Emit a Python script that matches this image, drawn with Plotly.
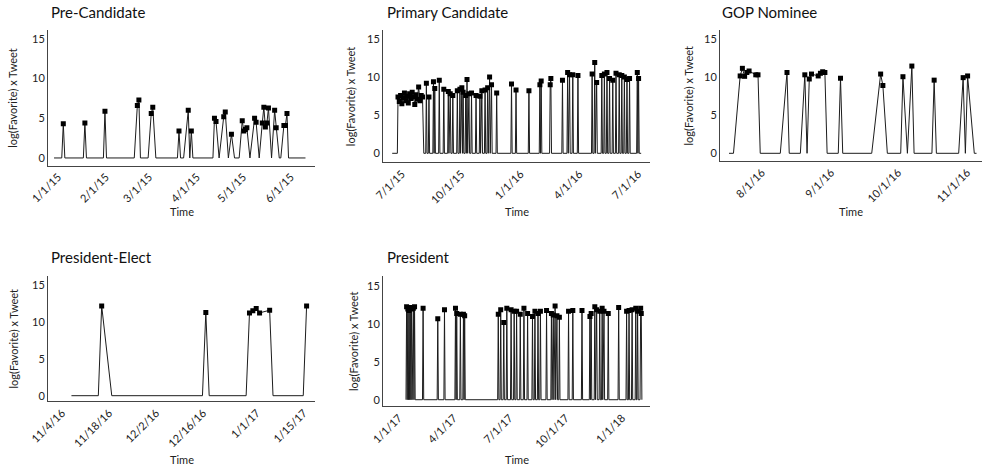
import plotly.graph_objects as go

# ------------------------------------------------------------------ data
pre_dates = ["2015-01-01", "2015-01-06", "2015-01-07", "2015-01-08", "2015-01-20", "2015-01-21", "2015-01-22",
             "2015-02-02", "2015-02-03", "2015-02-04", "2015-02-22", "2015-02-24", "2015-02-25", "2015-02-26",
             "2015-03-03", "2015-03-05", "2015-03-06", "2015-03-08", "2015-03-22", "2015-03-23", "2015-03-24",
             "2015-03-26", "2015-03-29", "2015-03-30", "2015-03-31", "2015-04-01", "2015-04-14", "2015-04-15",
             "2015-04-16", "2015-04-18", "2015-04-21", "2015-04-22", "2015-04-24", "2015-04-26", "2015-04-28",
             "2015-05-01", "2015-05-03", "2015-05-04", "2015-05-05", "2015-05-06", "2015-05-08", "2015-05-11",
             "2015-05-12", "2015-05-14", "2015-05-16", "2015-05-17", "2015-05-18", "2015-05-19", "2015-05-20",
             "2015-05-22", "2015-05-24", "2015-05-25", "2015-05-27", "2015-05-28", "2015-05-30", "2015-05-31",
             "2015-06-01", "2015-06-02", "2015-06-13"]
pre_vals = [0, 0, 4.3, 0, 0, 4.4, 0,
            0, 5.9, 0, 0, 6.6, 7.3, 0,
            0, 5.6, 6.4, 0, 0, 3.4, 0,
            0, 6.0, 0, 3.4, 0, 0, 5.0,
            4.6, 0, 5.2, 5.8, 0, 3.0, 0,
            0, 4.7, 3.4, 3.6, 3.8, 0, 5.0,
            4.5, 0, 4.4, 6.4, 3.9, 4.4, 6.3,
            0, 6.0, 3.8, 0, 0, 4.1, 4.1,
            5.6, 0, 0]

prim_dates = ["2015-06-22", "2015-06-30", "2015-07-01", "2015-07-03", "2015-07-05", "2015-07-07", "2015-07-09",
              "2015-07-11", "2015-07-13", "2015-07-15", "2015-07-17", "2015-07-19", "2015-07-21", "2015-07-23",
              "2015-07-25", "2015-07-27", "2015-07-29", "2015-07-31", "2015-08-02", "2015-08-04", "2015-08-06",
              "2015-08-08", "2015-08-10",
              "2015-08-13", "2015-08-14", "2015-08-15", "2015-08-17", "2015-08-18", "2015-08-19",
              "2015-08-24", "2015-08-25", "2015-08-26", "2015-08-27", "2015-08-28",
              "2015-09-02", "2015-09-03", "2015-09-04", "2015-09-09", "2015-09-10", "2015-09-11",
              "2015-09-16", "2015-09-17", "2015-09-18", "2015-09-20", "2015-09-21", "2015-09-23", "2015-09-24", "2015-09-25",
              "2015-09-30", "2015-10-01", "2015-10-02", "2015-10-04", "2015-10-05", "2015-10-06", "2015-10-08",
              "2015-10-09", "2015-10-10", "2015-10-11", "2015-10-13", "2015-10-14", "2015-10-15", "2015-10-16",
              "2015-10-17", "2015-10-19", "2015-10-20", "2015-10-22", "2015-10-23", "2015-10-24",
              "2015-10-29", "2015-10-30", "2015-10-31",
              "2015-11-04", "2015-11-05", "2015-11-06", "2015-11-08", "2015-11-09",
              "2015-11-12", "2015-11-13", "2015-11-14", "2015-11-16", "2015-11-17", "2015-11-18", "2015-11-20",
              "2015-11-21", "2015-11-23", "2015-11-24",
              "2015-11-30", "2015-12-01", "2015-12-02", "2015-12-23", "2015-12-24", "2015-12-25",
              "2015-12-30", "2015-12-31", "2016-01-01", "2016-01-19", "2016-01-20", "2016-01-21",
              "2016-02-05", "2016-02-06", "2016-02-07", "2016-02-08", "2016-02-09",
              "2016-02-21", "2016-02-22", "2016-02-23", "2016-02-24", "2016-03-11", "2016-03-12", "2016-03-13",
              "2016-03-19", "2016-03-20", "2016-03-21", "2016-03-23", "2016-03-24", "2016-03-27", "2016-03-28", "2016-03-29",
              "2016-04-04", "2016-04-05", "2016-04-06",
              "2016-04-26", "2016-04-27", "2016-04-28", "2016-04-30", "2016-05-01", "2016-05-02", "2016-05-04", "2016-05-05",
              "2016-05-11", "2016-05-12", "2016-05-13", "2016-05-15", "2016-05-16", "2016-05-17", "2016-05-19",
              "2016-05-20", "2016-05-21", "2016-05-23", "2016-05-24", "2016-05-25", "2016-05-28", "2016-05-29", "2016-05-30",
              "2016-06-02", "2016-06-03", "2016-06-04", "2016-06-07", "2016-06-08", "2016-06-09", "2016-06-11",
              "2016-06-12", "2016-06-13", "2016-06-15", "2016-06-16", "2016-06-17", "2016-06-19", "2016-06-20",
              "2016-06-21", "2016-06-23", "2016-06-24", "2016-06-25",
              "2016-07-05", "2016-07-06", "2016-07-07", "2016-07-08", "2016-07-09", "2016-07-12"]
prim_vals = [0, 0, 7.4, 6.8, 7.6, 6.5, 7.3,
             7.9, 6.9, 7.5, 6.6, 7.8, 7.2, 8.0,
             7.4, 6.4, 7.7, 7.1, 8.7, 6.9, 7.6,
             7.4, 0,
             0, 9.2, 0, 0, 7.4, 0,
             0, 9.4, 0, 8.5, 0,
             0, 9.6, 0, 0, 8.4, 0,
             0, 8.1, 0, 7.8, 0, 0, 7.6, 0,
             0, 8.2, 0, 0, 8.4, 0, 8.6,
             0, 8.0, 0, 0, 7.6, 0, 9.7,
             0, 7.8, 0, 0, 7.9, 0,
             0, 7.6, 0,
             0, 7.5, 0, 8.2, 0,
             0, 8.3, 0, 0, 8.6, 0, 10.0,
             0, 9.0, 0,
             0, 7.9, 0, 0, 9.1, 0,
             0, 8.3, 0, 0, 8.2, 0,
             0, 9.0, 0, 9.5, 0,
             0, 9.0, 9.8, 0, 0, 9.6, 0,
             0, 10.6, 0, 10.3, 0, 0, 10.3, 0,
             0, 10.2, 0,
             0, 10.4, 0, 0, 11.9, 0, 9.3, 0,
             0, 10.2, 0, 0, 10.4, 0, 0,
             10.6, 0, 0, 9.8, 0, 0, 9.6, 0,
             0, 10.5, 0, 0, 10.3, 0, 0,
             10.2, 0, 0, 10.0, 0, 0, 9.7,
             0, 0, 9.8, 0,
             0, 10.6, 0, 9.8, 0, 0]

gop_dates = ["2016-07-19", "2016-07-21", "2016-07-24", "2016-07-25", "2016-07-26", "2016-07-27", "2016-07-28",
             "2016-07-31", "2016-08-01", "2016-08-02", "2016-08-11", "2016-08-14", "2016-08-15",
             "2016-08-20", "2016-08-22", "2016-08-23", "2016-08-24", "2016-08-25", "2016-08-28", "2016-08-29",
             "2016-08-30", "2016-08-31", "2016-09-01", "2016-09-06", "2016-09-07", "2016-09-08",
             "2016-09-21", "2016-09-25", "2016-09-26", "2016-09-28",
             "2016-10-04", "2016-10-05", "2016-10-07", "2016-10-09", "2016-10-10",
             "2016-10-18", "2016-10-19", "2016-10-20",
             "2016-10-30", "2016-11-01", "2016-11-02", "2016-11-03", "2016-11-06", "2016-11-07"]
gop_vals = [0, 0, 10.15, 11.15, 10.1, 10.6, 10.8,
            10.3, 10.3, 0, 0, 10.6, 0,
            0, 10.3, 0, 9.75, 10.4, 10.15, 10.5,
            10.7, 10.6, 0, 0, 9.85, 0,
            0, 10.4, 8.9, 0,
            0, 10.05, 0, 11.45, 0,
            0, 9.6, 0,
            0, 9.93, 0, 10.15, 0, 0]

elect_dates = ["2016-11-08", "2016-11-16", "2016-11-17", "2016-11-20", "2016-12-17", "2016-12-18", "2016-12-19",
               "2016-12-30", "2016-12-31", "2017-01-01", "2017-01-02", "2017-01-03", "2017-01-06", "2017-01-07",
               "2017-01-16", "2017-01-17"]
elect_vals = [0, 0, 12.17, 0, 0, 11.27, 0,
              0, 11.22, 11.5, 11.8, 11.22, 11.58, 0,
              0, 12.17]

pres_dates = ["2017-01-19", "2017-01-20", "2017-01-21", "2017-01-22", "2017-01-23", "2017-01-24", "2017-01-25",
              "2017-01-26", "2017-01-27", "2017-01-28", "2017-01-29", "2017-01-31", "2017-02-01", "2017-02-02",
              "2017-02-03", "2017-02-15", "2017-02-16", "2017-02-17", "2017-03-11", "2017-03-12", "2017-03-13",
              "2017-03-22", "2017-03-23", "2017-03-24", "2017-04-09", "2017-04-10", "2017-04-11", "2017-04-12",
              "2017-04-13", "2017-04-17", "2017-04-18", "2017-04-19", "2017-04-22", "2017-04-23", "2017-04-24",
              "2017-04-25", "2017-04-26", "2017-06-18", "2017-06-19", "2017-06-20", "2017-06-22", "2017-06-23",
              "2017-06-24", "2017-06-27", "2017-06-28", "2017-06-29", "2017-07-02", "2017-07-03", "2017-07-04",
              "2017-07-09", "2017-07-10", "2017-07-11", "2017-07-14", "2017-07-15", "2017-07-16", "2017-07-18",
              "2017-07-19", "2017-07-20", "2017-07-24", "2017-07-25", "2017-07-26", "2017-07-30", "2017-07-31",
              "2017-08-01", "2017-08-05", "2017-08-06", "2017-08-07", "2017-08-13", "2017-08-14", "2017-08-15",
              "2017-08-17", "2017-08-18", "2017-08-19", "2017-08-22", "2017-08-23", "2017-08-24", "2017-08-26",
              "2017-08-27", "2017-08-28", "2017-09-05", "2017-09-06", "2017-09-07", "2017-09-13", "2017-09-14",
              "2017-09-15", "2017-09-17", "2017-09-18", "2017-09-20", "2017-09-21", "2017-09-23", "2017-09-24",
              "2017-09-26", "2017-09-27", "2017-09-28", "2017-10-11", "2017-10-12", "2017-10-13", "2017-10-18",
              "2017-10-19", "2017-10-20", "2017-11-02", "2017-11-03", "2017-11-04", "2017-11-15", "2017-11-16",
              "2017-11-17", "2017-11-18", "2017-11-19", "2017-11-23", "2017-11-24", "2017-11-25", "2017-11-27",
              "2017-11-28", "2017-12-01", "2017-12-02", "2017-12-03", "2017-12-05", "2017-12-06", "2017-12-07",
              "2017-12-09", "2017-12-10", "2017-12-15", "2017-12-16", "2017-12-17", "2018-01-01", "2018-01-02",
              "2018-01-03", "2018-01-14", "2018-01-15", "2018-01-16", "2018-01-18", "2018-01-19", "2018-01-20",
              "2018-01-23", "2018-01-24", "2018-01-25", "2018-01-29", "2018-01-30", "2018-01-31", "2018-02-01",
              "2018-02-02", "2018-02-03", "2018-02-06", "2018-02-07", "2018-02-08", "2018-02-09"]
pres_vals = [0, 12.3, 0, 12.0, 0, 11.8, 0,
             12.2, 0, 12.0, 0, 12.1, 0, 12.3,
             0, 0, 12.1, 0, 0, 10.7, 0,
             0, 11.9, 0, 0, 12.1, 0, 11.4,
             0, 0, 11.3, 0, 0, 11.3, 0,
             11.1, 0, 0, 11.3, 0, 0, 11.9,
             0, 0, 10.2, 0, 0, 12.1, 0,
             0, 11.9, 0, 0, 11.7, 0, 0,
             11.7, 0, 0, 11.3, 0, 0, 12.1,
             0, 0, 11.4, 0, 0, 11.0, 0,
             0, 11.7, 0, 0, 11.4, 0, 0,
             11.7, 0, 0, 11.8, 0, 0, 11.4,
             0, 11.2, 0, 12.4, 0, 11.1, 0,
             0, 10.9, 0, 0, 11.7, 0, 0,
             11.8, 0, 0, 11.8, 0, 0, 11.0,
             0, 11.4, 0, 0, 12.3, 0, 11.9,
             0, 0, 11.7, 0, 0, 12.1, 0,
             11.7, 0, 0, 11.4, 0, 0, 12.2,
             0, 0, 11.7, 0, 0, 11.8, 0,
             0, 11.9, 0, 0, 12.1, 0, 0,
             11.7, 0, 0, 12.1, 11.4, 0]

pre_ticks = ["2015-01-01", "2015-02-01", "2015-03-01", "2015-04-01", "2015-05-01", "2015-06-01"]
pre_ticktext = ["1/1/15", "2/1/15", "3/1/15", "4/1/15", "5/1/15", "6/1/15"]
prim_ticks = ["2015-07-01", "2015-10-01", "2016-01-01", "2016-04-01", "2016-07-01"]
prim_ticktext = ["7/1/15", "10/1/15", "1/1/16", "4/1/16", "7/1/16"]
gop_ticks = ["2016-08-01", "2016-09-01", "2016-10-01", "2016-11-01"]
gop_ticktext = ["8/1/16", "9/1/16", "10/1/16", "11/1/16"]
elect_ticks = ["2016-11-04", "2016-11-18", "2016-12-02", "2016-12-16", "2017-01-01", "2017-01-15"]
elect_ticktext = ["11/4/16", "11/18/16", "12/2/16", "12/16/16", "1/1/17", "1/15/17"]
pres_ticks = ["2017-01-01", "2017-04-01", "2017-07-01", "2017-10-01", "2018-01-01"]
pres_ticktext = ["1/1/17", "4/1/17", "7/1/17", "10/1/17", "1/1/18"]
y_ticks = [0, 5, 10, 15]

for a, b in [(pre_dates, pre_vals), (prim_dates, prim_vals), (gop_dates, gop_vals),
             (elect_dates, elect_vals), (pres_dates, pres_vals)]:
    assert len(a) == len(b), (len(a), len(b))

# ------------------------------------------------------------------ layout
W, H = 982, 468
FONT = "Lato, 'Open Sans', sans-serif"

panels = [
    dict(title="Pre-Candidate", d=pre_dates, v=pre_vals, tv=pre_ticks, tt=pre_ticktext,
         xr=["2014-12-28 02:00", "2015-06-19 04:00"], yr=[-0.95, 16.13],
         box=(48, 315, 30, 165.5), ytx=13, tx=49, ty=12, timey=212),
    dict(title="Primary Candidate", d=prim_dates, v=prim_vals, tv=prim_ticks, tt=prim_ticktext,
         xr=["2015-06-07 18:00", "2016-07-25 17:00"], yr=[-1.18, 16.18],
         box=(383, 650, 30, 162.3), ytx=350, tx=385, ty=12, timey=212),
    dict(title="GOP Nominee", d=gop_dates, v=gop_vals, tv=gop_ticks, tt=gop_ticktext,
         xr=["2016-07-14 23:00", "2016-11-09 11:00"], yr=[-1.01, 16.18],
         box=(720, 982, 30, 161), ytx=688, tx=720, ty=12, timey=212),
    dict(title="President-Elect", d=elect_dates, v=elect_vals, tv=elect_ticks, tt=elect_ticktext,
         xr=["2016-11-01 00:30", "2017-01-19 12:00"], yr=[-0.76, 16.26],
         box=(48, 315, 275.7, 401.3), ytx=13, tx=49, ty=257, timey=459),
    dict(title="President", d=pres_dates, v=pres_vals, tv=pres_ticks, tt=pres_ticktext,
         xr=["2016-12-12 09:00", "2018-02-22 07:00"], yr=[-0.87, 16.4],
         box=(383, 650, 275.7, 406.3), ytx=353, tx=385, ty=257, timey=459),
]

fig = go.Figure()
layout = dict(width=W, height=H, margin=dict(l=0, r=0, t=0, b=0, pad=0, autoexpand=False),
              paper_bgcolor="white", plot_bgcolor="white", showlegend=False,
              font=dict(family=FONT, color="#222"))
annotations = []

for i, p in enumerate(panels):
    s = "" if i == 0 else str(i + 1)
    x0, x1, y0, y1 = p["box"]
    fig.add_trace(go.Scatter(x=p["d"], y=p["v"], mode="lines",
                             line=dict(color="#1c1c1c", width=1),
                             xaxis="x" + s, yaxis="y" + s, hoverinfo="skip"))
    md = [d for d, v in zip(p["d"], p["v"]) if v > 0]
    mv = [v for v in p["v"] if v > 0]
    fig.add_trace(go.Scatter(x=md, y=mv, mode="markers",
                             marker=dict(symbol="square", size=5, color="black"),
                             xaxis="x" + s, yaxis="y" + s))
    layout["xaxis" + s] = dict(domain=[x0 / W, min(x1 / W, 1)], anchor="y" + s, type="date",
                               range=p["xr"], tickvals=p["tv"], ticktext=p["tt"], tickangle=-45,
                               automargin=False, ticklabelshift=4,
                               showline=True, linecolor="#444", linewidth=1, showgrid=False,
                               zeroline=False, ticks="", tickfont=dict(size=11, color="#222", family=FONT))
    layout["yaxis" + s] = dict(domain=[1 - y1 / H, 1 - y0 / H], anchor="x" + s, automargin=False,
                               range=p["yr"], tickvals=y_ticks, showline=True, linecolor="#444",
                               linewidth=1, showgrid=False, zeroline=False, ticks="",
                               tickfont=dict(size=11, color="#222", family=FONT))
    annotations.append(dict(text=p["title"], x=p["tx"] / W, y=1 - p["ty"] / H, xref="paper", yref="paper",
                            xanchor="left", yanchor="middle", showarrow=False,
                            font=dict(size=15, color="#111", family=FONT)))
    annotations.append(dict(text="log(Favorite) x Tweet", x=p["ytx"] / W, y=1 - ((y0 + y1) / 2) / H,
                            xref="paper", yref="paper", xanchor="center", yanchor="middle",
                            textangle=-90, showarrow=False, font=dict(size=11, color="#222", family=FONT)))
    annotations.append(dict(text="Time", x=((x0 + min(x1, 982)) / 2) / W, y=1 - p["timey"] / H,
                            xref="paper", yref="paper", xanchor="center", yanchor="middle",
                            showarrow=False, font=dict(size=11, color="#222", family=FONT)))

layout["annotations"] = annotations
fig.update_layout(**layout)
fig.write_html("out.html", config={"displayModeBar": False},
               post_script="document.body.style.margin='0';document.body.style.overflow='hidden';")
